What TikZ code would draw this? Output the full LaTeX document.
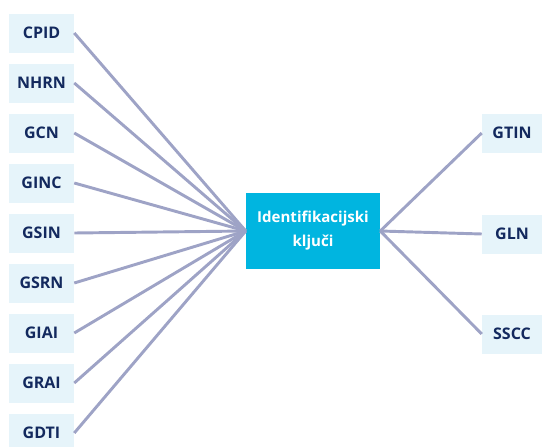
\documentclass[tikz,border=0pt]{standalone}
\usepackage{fontspec}
\setmainfont{Open Sans}
\definecolor{boxfill}{HTML}{E6F4FA}
\definecolor{keytext}{HTML}{13295E}
\definecolor{hubfill}{HTML}{00B5E0}
\definecolor{link}{HTML}{9EA3C6}
\tikzset{
  keybox/.style={fill=boxfill,text=keytext,font=\bfseries\fontsize{12}{14}\selectfont,minimum width=48.75pt,minimum height=29.25pt,inner sep=0pt},
  hub/.style={fill=hubfill,text=white,font=\bfseries\fontsize{11.3}{18}\selectfont,minimum width=100.5pt,minimum height=57pt,align=center,inner sep=0pt},
  link/.style={draw=link,line width=2.2pt}
}
\begin{document}
\begin{tikzpicture}[x=0.75pt,y=-0.75pt]
			\useasboundingbox (0,0) rectangle (542,446);
			\node[hub] (kljuc) at (313,231) {Identifikacijski\\klju\v{c}i};
			\foreach \name [count=\i from 0] in {CPID,NHRN,GCN,GINC,GSIN,GSRN,GIAI,GRAI,GDTI}{
				\node[keybox] (\name) at (41.5,33+50*\i) {\name};
				\draw[link] (\name.east) -- (kljuc.west);
			}
			\node[keybox,minimum width=45pt] (GTIN) at (512,133) {GTIN};
			\node[keybox,minimum width=45pt] (GLN) at (512,234) {GLN};
			\node[keybox,minimum width=45pt] (SSCC) at (512,334) {SSCC};
			\draw[link] (kljuc.east) -- (GTIN.west);
			\draw[link] (kljuc.east) -- (GLN.west);
			\draw[link] (kljuc.east) -- (SSCC.west);
\end{tikzpicture}
\end{document}
